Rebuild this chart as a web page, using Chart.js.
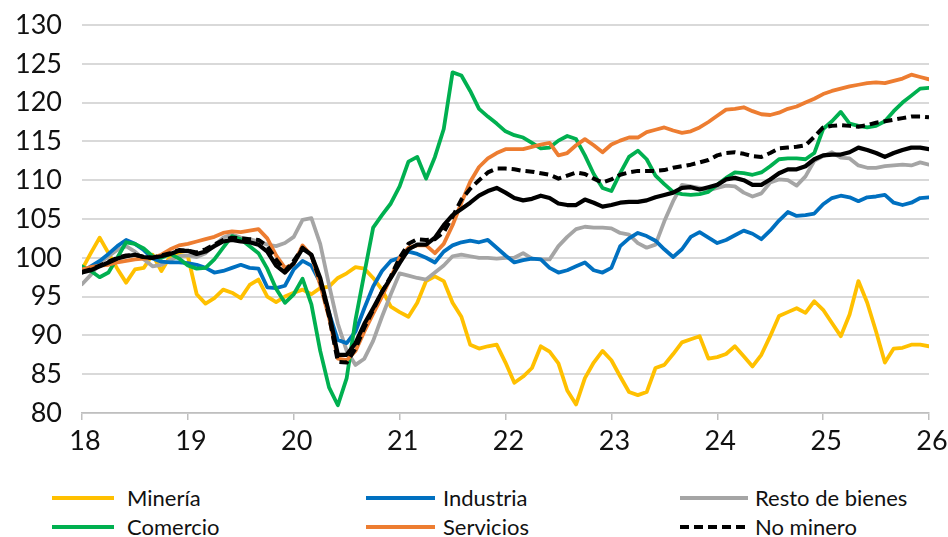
<!DOCTYPE html>
<html>
<head>
<meta charset="utf-8">
<script src="https://cdn.jsdelivr.net/npm/chart.js@4.4.1/dist/chart.umd.min.js"></script>
<style>
  html, body { margin: 0; padding: 0; background: #ffffff; }
  #wrap { position: relative; width: 948px; height: 537px; overflow: hidden; background: #fff; }
  #c { position: absolute; left: 0; top: 0; }
  .lg { position: absolute; font-family: Lato, "DejaVu Sans Condensed", sans-serif;
        font-size: 22px; color: #111111; line-height: 24px; white-space: nowrap; }
  .sw { position: absolute; height: 4px; }
</style>
</head>
<body>
<div id="wrap">
  <canvas id="c" width="948" height="470"></canvas>
  <div id="legend"></div>
</div>
<script>
// ---------------- DATA ----------------
const START_YEAR = 2018;          // first month: January 2018, monthly data
const xTicks = [18, 19, 20, 21, 22, 23, 24, 25, 26];
const yTicks = [80, 85, 90, 95, 100, 105, 110, 115, 120, 125, 130];

const mineria = [
  98.5,100.6,102.6,100.6,98.6,96.8,98.5,98.7,100.4,98.3,100.2,100.4,
  100.2,95.3,94.1,94.8,95.9,95.5,94.8,96.5,97.2,95.0,94.3,95.0,
  95.5,95.9,95.3,96.1,96.3,97.4,98.0,98.8,98.6,97.4,95.9,93.7,
  93.0,92.4,94.2,97.0,97.6,97.0,94.2,92.4,88.8,88.3,88.6,88.8,
  86.5,83.9,84.7,85.8,88.6,87.9,86.4,82.9,81.1,84.5,86.5,88.0,
  86.8,84.7,82.7,82.3,82.7,85.8,86.2,87.6,89.1,89.5,89.9,87.0,
  87.2,87.6,88.6,87.3,86.0,87.5,89.9,92.5,93.0,93.5,92.9,94.4,
  93.3,91.6,89.9,92.7,97.0,94.2,90.5,86.5,88.3,88.4,88.8,88.8,88.6
];
const industria = [
  98.1,98.9,99.6,100.5,101.5,102.3,101.8,101.0,99.9,99.5,99.4,99.4,
  99.3,99.1,98.7,98.1,98.3,98.7,99.1,98.7,98.6,96.2,96.1,96.4,
  98.5,99.6,99.0,96.8,92.9,89.4,89.0,90.5,93.5,96.3,98.3,99.6,
  100.0,100.8,100.5,100.0,99.4,100.8,101.6,102.0,102.2,102.0,102.3,101.3,
  100.3,99.4,99.7,99.9,99.8,98.7,98.1,98.4,98.9,99.4,98.4,98.1,
  98.7,101.5,102.5,103.2,102.8,102.2,101.1,100.1,101.1,102.7,103.3,102.6,
  101.9,102.3,102.9,103.5,103.1,102.4,103.5,104.8,105.9,105.4,105.5,105.7,
  106.9,107.7,108.0,107.8,107.3,107.8,107.9,108.1,107.1,106.8,107.1,107.7,107.8
];
const restoBienes = [
  96.6,97.8,99.3,100.2,101.0,101.5,100.8,99.8,98.9,99.1,99.7,100.2,
  100.3,100.1,100.6,101.6,102.6,103.0,102.6,102.4,102.1,101.7,101.5,101.9,
  102.7,104.9,105.1,101.8,96.5,91.5,88.0,86.2,87.0,89.3,92.4,95.3,
  98.0,97.7,97.4,97.2,98.1,99.0,100.2,100.4,100.2,100.0,100.0,99.9,
  100.0,100.0,100.6,99.9,99.8,99.8,101.5,102.7,103.7,104.0,103.9,103.9,
  103.8,103.2,103.0,101.9,101.3,101.7,104.7,107.3,109.4,109.2,109.0,108.7,
  109.0,109.3,109.2,108.4,107.9,108.3,109.7,110.1,110.0,109.3,110.5,112.5,
  113.1,113.6,112.9,112.8,111.9,111.6,111.6,111.8,111.9,112.0,111.9,112.3,112.0
];
const comercio = [
  98.9,98.3,97.5,98.1,100.0,102.0,101.8,101.2,100.2,100.0,100.5,99.9,
  99.0,98.6,98.7,99.8,101.3,102.8,102.4,101.5,100.6,98.6,96.0,94.2,
  95.3,97.3,94.0,88.0,83.3,81.0,84.5,92.0,98.0,103.9,105.5,107.0,
  109.2,112.4,113.0,110.2,113.0,116.6,123.9,123.5,121.5,119.2,118.2,117.3,
  116.3,115.8,115.5,114.8,114.1,114.2,115.1,115.7,115.3,113.2,110.8,109.0,
  108.6,110.9,113.0,113.8,112.7,110.6,109.5,108.5,108.2,108.1,108.2,108.5,
  109.4,110.3,111.0,110.9,110.7,111.0,111.8,112.7,112.8,112.8,112.7,113.5,
  116.6,117.6,118.8,117.3,117.0,116.8,117.0,117.6,118.9,120.0,120.9,121.8,121.9
];
const servicios = [
  98.5,98.8,99.0,99.1,99.4,99.6,99.8,99.9,100.0,100.4,101.1,101.6,
  101.8,102.1,102.4,102.7,103.2,103.4,103.3,103.5,103.7,102.5,100.3,98.7,
  99.2,101.6,100.3,96.5,92.3,87.0,86.8,88.0,90.5,92.8,95.0,97.5,
  100.0,101.3,101.6,101.6,100.6,101.8,104.2,107.1,109.8,111.7,112.8,113.5,
  114.0,114.0,114.0,114.3,114.6,114.8,113.2,113.5,114.5,115.3,114.5,113.6,
  114.6,115.1,115.5,115.5,116.2,116.5,116.8,116.4,116.1,116.3,116.8,117.5,
  118.3,119.1,119.2,119.4,118.9,118.5,118.4,118.7,119.2,119.5,120.0,120.5,
  121.1,121.5,121.8,122.1,122.3,122.5,122.6,122.5,122.8,123.1,123.6,123.3,123.0
];
const noMinero = [
  98.2,98.5,99.0,99.5,100.0,100.3,100.4,100.1,100.0,100.3,100.6,101.0,
  100.9,100.7,101.1,101.7,102.3,102.6,102.5,102.4,102.3,101.5,99.8,98.3,
  99.6,101.3,100.3,97.0,92.5,86.6,86.5,88.3,91.0,93.3,95.6,97.6,
  100.0,101.8,102.4,102.3,102.4,103.3,105.3,107.5,108.9,110.0,111.0,111.5,
  111.5,111.4,111.2,111.1,110.9,110.7,110.2,110.6,111.0,110.8,110.2,109.7,
  110.1,110.7,111.0,111.2,111.2,111.2,111.3,111.6,111.8,112.0,112.3,112.6,
  113.2,113.5,113.6,113.4,113.1,113.0,113.5,114.1,114.2,114.3,114.5,115.6,
  116.8,117.0,117.1,117.0,116.9,117.1,117.4,117.6,117.8,118.0,118.2,118.2,118.1
];
const imacec = [
  98.1,98.4,98.9,99.4,99.9,100.2,100.4,100.1,100.0,100.2,100.5,100.9,
  100.9,100.5,100.8,101.5,102.1,102.3,102.1,102.0,101.7,100.8,99.0,98.1,
  99.3,101.2,100.4,97.4,92.9,87.5,87.5,89.0,91.5,93.5,95.6,97.4,
  99.3,101.1,101.7,101.7,102.6,104.2,105.5,106.3,107.1,108.0,108.6,109.0,
  108.4,107.7,107.4,107.6,108.0,107.7,107.0,106.8,106.8,107.5,107.1,106.6,
  106.8,107.1,107.2,107.2,107.4,107.8,108.1,108.4,109.0,109.1,108.8,109.1,
  109.4,110.1,110.3,110.0,109.4,109.4,110.1,110.9,111.4,111.4,111.8,112.7,
  113.2,113.3,113.3,113.6,114.2,113.9,113.5,113.0,113.5,113.9,114.2,114.2,114.0
];

// month categories (Jan 2018 onward), as labels "YYYY-MM"
const months = mineria.map((_, i) => {
  const y = START_YEAR + Math.floor(i / 12), m = (i % 12) + 1;
  return y + '-' + String(m).padStart(2, '0');
});
// position of each month on the year axis (two-digit year + fraction)
const monthPos = months.map(s => {
  const [y, m] = s.split('-').map(Number);
  return (y - 2000) + (m - 1) / 12;
});
const toXY = arr => arr.map((v, i) => ({ x: monthPos[i], y: v }));

// ---------------- STYLE ----------------
const FONT = 'Lato, "DejaVu Sans Condensed", sans-serif';
const series = [
  { label: 'Minería',         data: mineria,     color: '#FFC000', dash: [],     width: 3.8, order: 6, legend: true },
  { label: 'Industria',       data: industria,   color: '#0070C0', dash: [],     width: 3.8, order: 4, legend: true },
  { label: 'Resto de bienes', data: restoBienes, color: '#A5A5A5', dash: [],     width: 3.8, order: 5, legend: true },
  { label: 'Comercio',        data: comercio,    color: '#00B050', dash: [],     width: 3.8, order: 3, legend: true },
  { label: 'Servicios',       data: servicios,   color: '#ED7D31', dash: [],     width: 3.8, order: 2, legend: true },
  { label: 'No minero',       data: noMinero,    color: '#000000', dash: [9, 5], width: 4,   order: 0, legend: true },
  { label: 'Imacec',          data: imacec,      color: '#000000', dash: [],     width: 4.2, order: 1, legend: false }
];

const PLOT_LEFT = 82, PLOT_RIGHT = 929, PLOT_TOP = 25, PLOT_BOTTOM = 413, CANVAS_H = 470;

new Chart(document.getElementById('c'), {
  type: 'line',
  data: {
    datasets: series.map(s => ({
      label: s.label,
      data: toXY(s.data),
      borderColor: s.color,
      backgroundColor: s.color,
      borderWidth: s.width,
      borderDash: s.dash,
      borderCapStyle: s.dash.length ? 'butt' : 'round',
      pointRadius: 0,
      pointHoverRadius: 0,
      tension: 0,
      fill: false,
      order: s.order,
      borderJoinStyle: 'round'
    }))
  },
  options: {
    responsive: false,
    devicePixelRatio: 1,
    animation: false,
    events: [],
    layout: { autoPadding: false, padding: { left: 0, right: 948 - PLOT_RIGHT, top: PLOT_TOP, bottom: 0 } },
    plugins: { legend: { display: false }, tooltip: { enabled: false } },
    scales: {
      x: {
        type: 'linear',
        min: xTicks[0], max: xTicks[xTicks.length - 1],
        afterBuildTicks: sc => { sc.ticks = xTicks.map(v => ({ value: v })); },
        afterFit: sc => { sc.height = CANVAS_H - PLOT_BOTTOM; sc.paddingLeft = 0; sc.paddingRight = 0; },
        grid: { drawOnChartArea: false, drawTicks: true, tickLength: 7, color: '#bfbfbf', lineWidth: 1.5 },
        border: { display: true, color: '#bfbfbf', width: 1.5 },
        ticks: { color: '#111111', font: { family: FONT, size: 27 }, padding: 5, labelOffset: 3, maxRotation: 0,
                 callback: v => String(v) }
      },
      y: {
        type: 'linear',
        min: yTicks[0], max: yTicks[yTicks.length - 1],
        afterBuildTicks: sc => { sc.ticks = yTicks.map(v => ({ value: v })); },
        afterFit: sc => { sc.width = PLOT_LEFT; sc.paddingTop = 0; sc.paddingBottom = 0; },
        grid: { drawTicks: false, color: '#d9d9d9', lineWidth: 2 },
        border: { display: false },
        ticks: { color: '#111111', font: { family: FONT, size: 27 }, padding: 20,
                 callback: v => String(v) }
      }
    }
  }
});

// ---------------- LEGEND (HTML text) ----------------
const legendPos = [
  { sx: 52,  sw: 62, tx: 127, y: 498 },
  { sx: 366, sw: 69, tx: 443, y: 498 },
  { sx: 680, sw: 68, tx: 755, y: 498 },
  { sx: 52,  sw: 62, tx: 127, y: 527 },
  { sx: 366, sw: 69, tx: 443, y: 527 },
  { sx: 680, sw: 68, tx: 755, y: 527 }
];
const lg = document.getElementById('legend');
series.filter(s => s.legend).forEach((s, k) => {
  const p = legendPos[k];
  const sw = document.createElement('div');
  sw.className = 'sw';
  sw.style.left = p.sx + 'px';
  sw.style.top = (p.y - 2) + 'px';
  sw.style.width = p.sw + 'px';
  sw.style.background = s.dash.length
    ? 'repeating-linear-gradient(to right, ' + s.color + ' 0 9px, transparent 9px 14px)'
    : s.color;
  lg.appendChild(sw);
  const t = document.createElement('div');
  t.className = 'lg';
  t.style.left = p.tx + 'px';
  t.style.top = (p.y - 12) + 'px';
  t.textContent = s.label;
  lg.appendChild(t);
});
</script>
</body>
</html>
